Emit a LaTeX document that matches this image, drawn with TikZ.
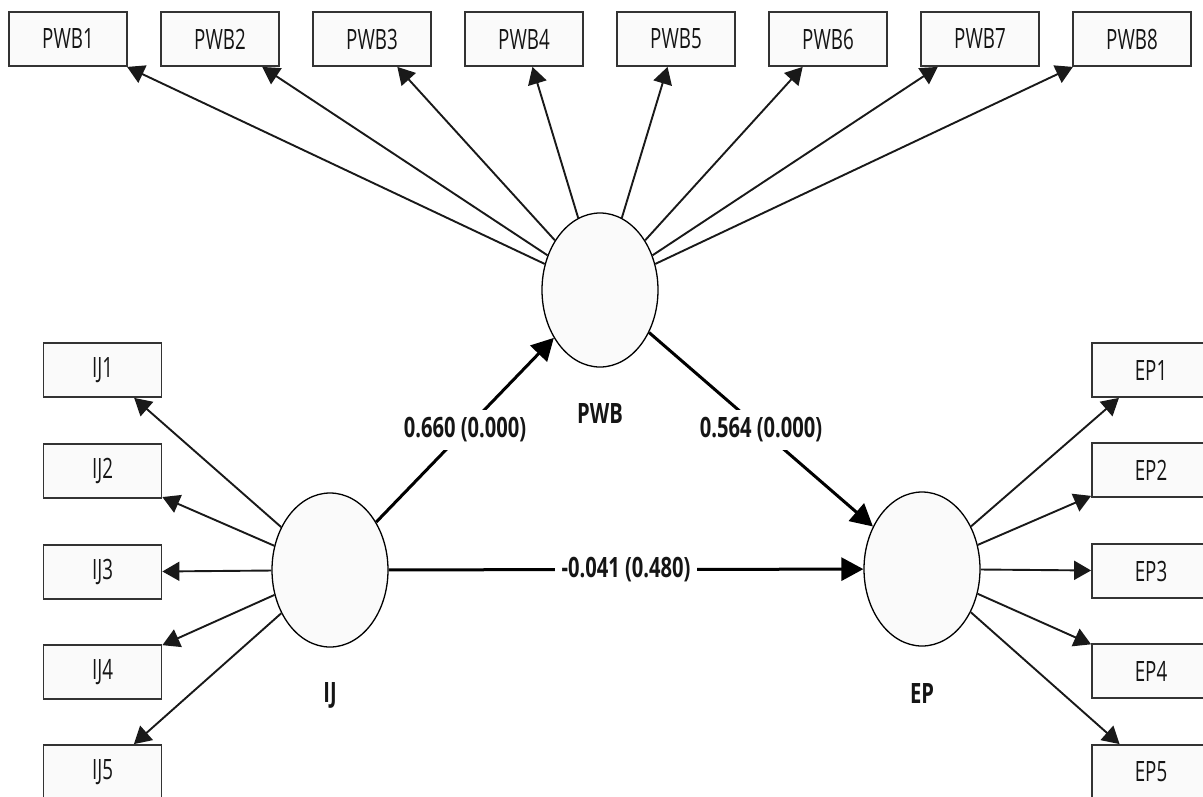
\documentclass[tikz,border=0pt]{standalone}
\usepackage{fontspec}
\setmainfont{Open Sans}[FakeStretch=0.67]
\newfontfamily\lblfont{Open Sans}[FakeStretch=0.72]
\usetikzlibrary{arrows.meta,shapes.geometric}
\definecolor{boxfill}{HTML}{FAFAFA}
\definecolor{txt}{HTML}{151515}
\tikzset{
  indbox/.style={draw=black!80, line width=1.8pt, fill=boxfill, minimum width=118pt, minimum height=54pt, inner sep=0pt, text=txt, font=\fontsize{28}{32}\selectfont},
  latent/.style={ellipse, draw=black, line width=1.3pt, fill=boxfill, minimum width=116pt, minimum height=154pt, inner sep=0pt},
  meas/.style={line width=1.9pt, draw=black!90, -{Triangle[length=17pt,width=19pt]}},
  structarrow/.style={line width=3pt, -{Triangle[length=22pt,width=23pt]}},
  coef/.style={fill=white, inner xsep=7pt, inner ysep=0pt, minimum height=40pt, text=txt, font=\lblfont\bfseries\fontsize{28}{32}\selectfont},
  latlbl/.style={text=txt, font=\lblfont\bfseries\fontsize{28}{32}\selectfont}
}
\begin{document}
\begin{tikzpicture}[x=1pt,y=-1pt]
\useasboundingbox (0,0) rectangle (1203,796);
\clip (0,0) rectangle (1203,796);
% latent variables
\node[latent] (PWB) at (600,290) {};
\node[latent] (IJ) at (330,570) {};
\node[latent] (EP) at (922,569) {};
\node[latlbl] (PWBl) at (600,413) {PWB};
\node[latlbl] (IJl) at (330,695) {IJ};
\node[latlbl] (EPl) at (922,693) {EP};
% PWB indicators
\foreach \i/\x in {1/68,2/220,3/372,4/524,5/676,6/828,7/980,8/1132}{
  \node[indbox] (PWB\i) at (\x,39) {PWB\i};
  \draw[meas] (PWB) -- (PWB\i);
}
% IJ indicators
\foreach \i/\y in {1/370,2/471,3/572,4/672,5/772}{
  \node[indbox] (IJ\i) at (102.5,\y) {IJ\i};
  \draw[meas] (IJ) -- (IJ\i);
}
% EP indicators
\foreach \i/\y in {1/370,2/470,3/571,4/671,5/772}{
  \node[indbox] (EP\i) at (1151,\y) {EP\i};
  \draw[meas] (EP) -- (EP\i);
}
% structural paths
\draw[structarrow] (IJ) -- node[coef] {0.660 (0.000)} (PWB);
\draw[structarrow] (PWB) -- node[coef] {0.564 (0.000)} (EP);
\draw[structarrow] (IJ) -- node[coef] {-0.041 (0.480)} (EP);
\end{tikzpicture}
\end{document}
